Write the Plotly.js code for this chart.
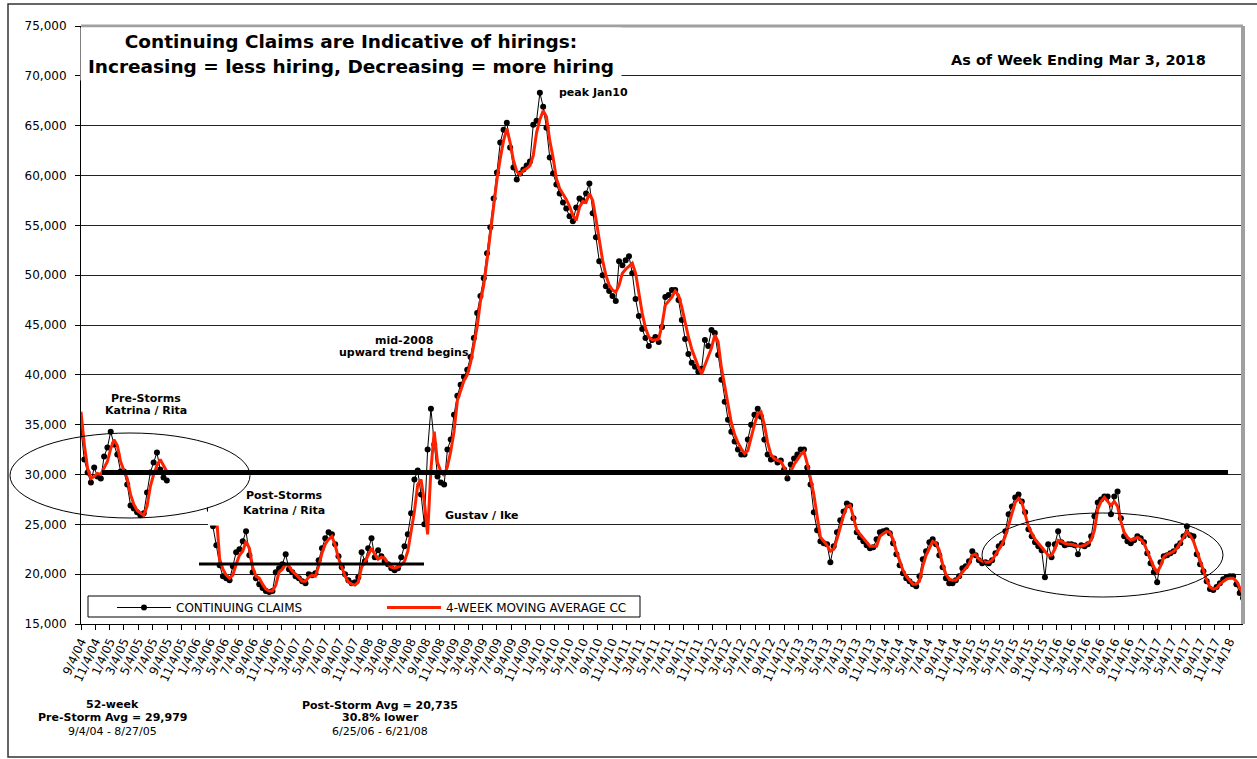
<!DOCTYPE html>
<html>
<head>
<meta charset="utf-8">
<script src="https://cdn.plot.ly/plotly-3.0.1.min.js"></script>
<style>html,body{margin:0;padding:0;background:#fff;}#chart{width:1257px;height:759px;}</style>
</head>
<body>
<div id="chart"></div>
<script>
// ---- data (weekly continuing claims, read every second week) ----
const firstWeek = '2004-09-04';
const lastWeek = '2018-03-03';
const stepDays = 14;
const seriesNames = ['CONTINUING CLAIMS', '4-WEEK MOVING AVERAGE CC'];

const claims = [
  34500,31500,30200,29200,30700,29800,29600,31800,32700,34300,
  33000,32000,30300,30300,29000,26900,26600,26200,25900,26100,
  28200,30200,31200,32200,30500,29700,29400,null,null,null,
  null,null,null,null,null,null,null,null,null,26500,
  24800,22900,20900,19800,19600,19400,20800,22200,22500,23300,
  24300,21900,20200,19600,19000,18600,18300,18200,18300,20200,
  20600,21000,22000,20500,20200,19800,19600,19300,19100,20000,
  19900,20100,21400,22600,23600,24200,24000,23000,21800,20700,
  20000,19400,19100,19200,19700,22200,21300,22600,23600,21700,
  22400,21800,21300,21000,20600,20400,20600,21700,22800,24000,
  26100,29500,30400,28000,25000,32500,36600,33000,29800,29200,
  29000,32500,33500,36000,37900,39000,39800,40500,41800,43700,
  46200,47900,49700,52200,54800,57700,60300,63300,64600,65300,
  62800,60800,59600,60200,60600,61000,61400,65100,65500,68300,
  66900,64800,61800,60200,59100,58200,57300,56700,55900,55400,
  56800,57700,57500,58200,59200,56200,53800,51400,50000,48900,
  48400,47900,47400,51400,51000,51500,51900,50200,47600,45900,
  44600,43700,42900,43500,43800,43300,44800,47800,48000,48500,
  48500,47500,45500,43600,42100,41200,40800,40300,40600,43500,
  42900,44500,44200,42000,39500,37300,35500,34300,33300,32500,
  32000,32000,33500,35000,36000,36600,35800,33500,32000,31500,
  31600,31200,31400,30500,29600,31000,31600,32000,32500,32500,
  30700,29000,26200,24400,23300,23100,23000,21200,22800,24200,
  25400,26300,27100,26900,25600,24200,23700,23300,22900,22600,
  22700,23500,24200,24300,24400,24100,23100,22000,20900,20100,
  19600,19300,19000,18800,19800,21500,22300,23200,23500,23000,
  21900,20700,19600,19100,19100,19400,19800,20600,20800,21300,
  22300,21900,21400,21100,21200,21100,21400,22100,22800,23100,
  24300,26000,26800,27700,28000,27300,26200,24500,23800,23200,
  22800,22400,19700,23000,21700,23000,24300,23200,22900,23000,
  23000,22900,22000,22900,22800,23000,23800,25800,27200,27500,
  27800,27800,26000,27800,28300,25600,23800,23300,23100,23400,
  23800,23600,23200,22100,21100,20200,19200,21200,21800,21900,
  22100,22300,22800,23100,23800,24800,23900,23800,22000,21000,
  20300,19300,18500,18400,18700,19100,19500,19700,19800,19800,
  19000,18100,17600
];

const movingAvg = [
  36300,33000,30600,29600,29800,30100,30000,30700,31300,32600,
  33500,32900,31300,30400,29600,28000,27000,26400,26100,25900,
  26800,28800,30000,30900,31500,30900,30300,null,null,null,
  null,null,null,null,null,null,null,null,null,null,
  null,26000,21500,20500,19900,19600,19900,21000,21900,22300,
  23300,22600,20700,19800,19600,19000,18500,18300,18300,18900,
  20200,20500,21000,20800,20300,20000,19700,19300,19300,19700,
  19900,19800,20800,22100,23000,23500,23800,22900,21600,20600,
  19800,19200,19000,18900,19200,20700,21200,21900,22600,22000,
  21500,21700,21600,21000,20700,20600,20700,20900,21300,22300,
  24200,26300,29000,29500,27300,24000,30500,34300,31200,30300,
  29900,30800,32300,34300,37400,38400,39400,40000,41200,43000,
  44800,47400,49000,51500,54200,57100,59600,61700,63500,64700,
  63300,61500,60400,60100,60500,60700,61000,62000,64300,65600,
  66500,65900,63500,61800,59700,58700,58200,57600,56900,56000,
  55500,56800,57400,57300,58200,57500,55600,53400,51500,50000,
  49000,48500,48300,49000,50200,50600,50900,51200,50200,48000,
  46200,44700,43800,43500,43500,43600,45000,47000,47400,47800,
  48400,48000,46800,45200,43800,42600,41600,40800,40100,40900,
  41900,42700,44000,43300,40700,38800,37000,35200,34000,33200,
  32600,32100,32400,33800,35000,36100,36300,35000,33200,32000,
  31600,31400,31300,30700,30000,30300,31000,31500,32000,32300,
  31100,29600,28000,25800,23700,23300,22900,22300,22500,23500,
  24800,25900,26800,26900,25700,24400,24000,23600,23200,22800,
  22800,22800,23800,24100,24300,24200,23500,22300,21300,20400,
  19800,19400,19000,19000,19300,20800,21900,22600,23300,23100,
  22400,21000,20000,19500,19400,19400,19700,20200,20600,21000,
  21900,22000,21500,21300,21200,21200,21400,21900,22400,23000,
  23800,24900,26100,27200,27600,27200,26000,24800,24100,23500,
  23100,22700,22400,21900,21900,22500,23400,23300,23100,23000,
  23000,22900,22800,22800,22900,23100,23400,24400,26500,27300,
  27700,27300,26900,27300,26800,25300,24200,23700,23400,23500,
  23700,23500,23100,22300,21400,20700,20200,20800,21700,22000,
  22100,22300,22600,23100,23700,24300,23900,23300,22400,21300,
  20400,19400,18700,18500,18600,19000,19300,19500,19600,19600,
  19300,18600,18000
];

const yRange = [15000, 75000];
const yStep = 5000;

// ---- layout helpers (pixel -> paper) ----
const FONT = 'DejaVu Sans';
const L = 81, R = 1243, T = 26, B = 624;
const px = x => (x - L) / (R - L);
const py = y => (B - y) / (B - T);
const DAY = 86400000;

function note(text, x, y, size, bold, extra) {
  return Object.assign({
    xref: 'paper', yref: 'paper', x: px(x), y: py(y),
    xanchor: 'center', yanchor: 'middle', showarrow: false,
    text: bold ? '<b>' + text + '</b>' : text,
    font: {family: FONT, size: size, color: 'black'}
  }, extra || {});
}
function lineShape(x0, y0, x1, y1, color, width, layer) {
  return {type: 'line', xref: 'paper', yref: 'paper', x0: px(x0), y0: py(y0), x1: px(x1), y1: py(y1),
          line: {color: color, width: width}, layer: layer || 'above'};
}

const traces = [
  {
    type: 'scatter', mode: 'lines+markers', name: seriesNames[0],
    x0: firstWeek, dx: stepDays * DAY, y: claims, connectgaps: false,
    line: {color: 'black', width: 1},
    marker: {color: 'black', size: 6, symbol: 'circle'},
    hoverinfo: 'skip'
  },
  {
    type: 'scatter', mode: 'lines', name: seriesNames[1],
    x0: firstWeek, dx: stepDays * DAY, y: movingAvg, connectgaps: false,
    line: {color: '#ff2200', width: 3},
    hoverinfo: 'skip'
  }
];

const shapes = [
  // outer chart frame
  {type: 'rect', xref: 'paper', yref: 'paper', x0: px(8), x1: px(1270), y0: py(4), y1: py(757),
   line: {color: '#333', width: 1.5}, layer: 'below'},
  // grey plot-area border (top and right)
  lineShape(L, T, R, T, '#a0a0a0', 3),
  lineShape(R, T, R, B, '#a0a0a0', 4),
  // white box behind the post-storm label
  {type: 'rect', xref: 'paper', yref: 'paper', x0: px(208), x1: px(360), y0: py(480), y1: py(525.5),
   fillcolor: 'white', line: {width: 0}, layer: 'above'},
  // pre-storm average line
  lineShape(102, 472.5, 1228, 472.5, 'black', 5),
  // post-storm average line
  lineShape(199, 564, 424, 564, 'black', 3),
  // ellipses
  {type: 'circle', xref: 'paper', yref: 'paper', x0: px(10), x1: px(250), y0: py(433), y1: py(518),
   line: {color: 'black', width: 1}, layer: 'above'},
  {type: 'circle', xref: 'paper', yref: 'paper', x0: px(982), x1: px(1223), y0: py(513), y1: py(597),
   line: {color: 'black', width: 1}, layer: 'above'},
  // legend frame
  {type: 'rect', xref: 'paper', yref: 'paper', x0: px(88), x1: px(640), y0: py(596), y1: py(617),
   fillcolor: 'white', line: {color: 'black', width: 1}, layer: 'above'}
];

const annotations = [
  note('<b>Continuing Claims are Indicative of hirings:</b><br><b>Increasing = less hiring, Decreasing = more hiring</b>',
       351, 54, 18.5, false, {bgcolor: 'white', width: 538, height: 50, align: 'center', valign: 'middle'}),
  note('As of Week Ending Mar 3, 2018', 1078, 60, 14.5, true),
  note('peak Jan10', 593, 92, 11, true),
  note('Pre-Storms', 146, 398, 11, true),
  note('Katrina / Rita', 146, 410, 11, true),
  note('Post-Storms', 284, 495, 11, true),
  note('Katrina / Rita', 284, 510, 11, true),
  note('Gustav / Ike', 482, 515, 11, true),
  note('mid-2008', 404, 340, 11, true),
  note('upward trend begins', 404, 352, 11, true),
  note('52-week', 112, 704, 11, true),
  note('Pre-Storm Avg = 29,979', 112, 717, 11, true),
  note('9/4/04 - 8/27/05', 112, 731, 11, false),
  note('Post-Storm Avg = 20,735', 380, 705, 11, true),
  note('30.8% lower', 380, 717, 11, true),
  note('6/25/06 - 6/21/08', 380, 731, 11, false)
];

const layout = {
  width: 1257, height: 759,
  margin: {l: L, r: 1257 - R, t: T, b: 759 - B, pad: 0},
  paper_bgcolor: 'white', plot_bgcolor: 'white',
  font: {family: FONT, size: 12, color: 'black'},
  showlegend: true,
  legend: {
    orientation: 'h', x: px(112), y: py(593), xanchor: 'left', yanchor: 'top',
    bgcolor: 'rgba(0,0,0,0)', borderwidth: 0,
    font: {family: FONT, size: 12, color: 'black'},
    entrywidth: 201, entrywidthmode: 'pixels', itemwidth: 54, traceorder: 'normal'
  },
  xaxis: {
    type: 'date', range: [firstWeek, lastWeek],
    tick0: firstWeek, dtick: 'M2', tickformat: '%-m/%-d/%y', tickangle: -65,
    ticks: 'outside', ticklen: 5, tickcolor: 'black', tickwidth: 1,
    showline: true, linecolor: 'black', linewidth: 1,
    showgrid: false, zeroline: false,
    tickfont: {family: FONT, size: 12, color: 'black'}
  },
  yaxis: {
    range: yRange, tick0: yRange[0], dtick: yStep, tickformat: ',d',
    ticks: 'outside', ticklen: 5, tickcolor: 'black', tickwidth: 1, ticklabelstandoff: 6,
    showline: true, linecolor: 'black', linewidth: 1,
    showgrid: true, gridcolor: '#222', gridwidth: 1, zeroline: false,
    tickfont: {family: FONT, size: 12, color: 'black'}
  },
  shapes: shapes,
  annotations: annotations
};

Plotly.newPlot('chart', traces, layout, {displayModeBar: false, staticPlot: true});
</script>
</body>
</html>
